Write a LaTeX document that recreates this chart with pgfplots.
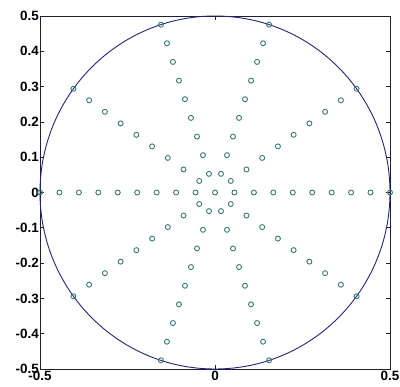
\documentclass[border=0pt]{standalone}
\usepackage{fontspec}
\setmainfont{Liberation Sans}
\usepackage{pgfplots}
\pgfplotsset{compat=1.18}
\definecolor{ptc}{RGB}{55,120,120}
\definecolor{circ}{RGB}{35,35,120}
\definecolor{axc}{RGB}{30,30,55}
\begin{document}
\begin{tikzpicture}
\begin{axis}[
  name=ax,
  scale only axis,
  width=350bp, height=353bp,
  xmin=-0.5, xmax=0.5, ymin=-0.5, ymax=0.5,
  axis line style={axc, line width=0.9pt},
  tick align=inside,
  major tick length=4bp,
  tick style={axc, line width=0.6pt},
  xtick={-0.5,0,0.5},
  xticklabels={-0.5,0,0.5},
  ytick={-0.5,-0.4,-0.3,-0.2,-0.1,0,0.1,0.2,0.3,0.4,0.5},
  yticklabels={-0.5,-0.4,-0.3,-0.2,-0.1,0,0.1,0.2,0.3,0.4,0.5},
  ticklabel style={font=\fontsize{13.5}{13.5}\selectfont\bfseries, text=black},
  yticklabel style={inner xsep=1pt},
  xticklabel style={inner ysep=2pt},
  clip=false,
]
\draw[circ, line width=0.9pt] (axis cs:0,0) ellipse [x radius=0.5, y radius=0.5];
\addplot[only marks, mark=o, mark size=2.5bp, mark options={ptc, line width=0.9pt}] coordinates {
(0,0)
(0.0556,0) (0.1111,0) (0.1667,0) (0.2222,0) (0.2778,0) (0.3333,0) (0.3889,0) (0.4444,0) (0.5,0)
(-0.0556,0) (-0.1111,0) (-0.1667,0) (-0.2222,0) (-0.2778,0) (-0.3333,0) (-0.3889,0) (-0.4444,0) (-0.5,0)
(0.0450,0.0327) (0.0899,0.0653) (0.1348,0.0980) (0.1798,0.1306) (0.2247,0.1633) (0.2697,0.1959) (0.3146,0.2286) (0.3596,0.2612) (0.4045,0.2939)
(-0.0450,0.0327) (-0.0899,0.0653) (-0.1348,0.0980) (-0.1798,0.1306) (-0.2247,0.1633) (-0.2697,0.1959) (-0.3146,0.2286) (-0.3596,0.2612) (-0.4045,0.2939)
(0.0450,-0.0327) (0.0899,-0.0653) (0.1348,-0.0980) (0.1798,-0.1306) (0.2247,-0.1633) (0.2697,-0.1959) (0.3146,-0.2286) (0.3596,-0.2612) (0.4045,-0.2939)
(-0.0450,-0.0327) (-0.0899,-0.0653) (-0.1348,-0.0980) (-0.1798,-0.1306) (-0.2247,-0.1633) (-0.2697,-0.1959) (-0.3146,-0.2286) (-0.3596,-0.2612) (-0.4045,-0.2939)
(0.0172,0.0528) (0.0343,0.1057) (0.0515,0.1585) (0.0687,0.2113) (0.0858,0.2642) (0.1030,0.3170) (0.1202,0.3699) (0.1373,0.4227) (0.1545,0.4755)
(-0.0172,0.0528) (-0.0343,0.1057) (-0.0515,0.1585) (-0.0687,0.2113) (-0.0858,0.2642) (-0.1030,0.3170) (-0.1202,0.3699) (-0.1373,0.4227) (-0.1545,0.4755)
(0.0172,-0.0528) (0.0343,-0.1057) (0.0515,-0.1585) (0.0687,-0.2113) (0.0858,-0.2642) (0.1030,-0.3170) (0.1202,-0.3699) (0.1373,-0.4227) (0.1545,-0.4755)
(-0.0172,-0.0528) (-0.0343,-0.1057) (-0.0515,-0.1585) (-0.0687,-0.2113) (-0.0858,-0.2642) (-0.1030,-0.3170) (-0.1202,-0.3699) (-0.1373,-0.4227) (-0.1545,-0.4755)
};
\end{axis}
\pgfresetboundingbox
\path ([shift={(-40bp,-18bp)}]ax.south west) rectangle ([shift={(10bp,16bp)}]ax.north east);
\end{tikzpicture}
\end{document}
